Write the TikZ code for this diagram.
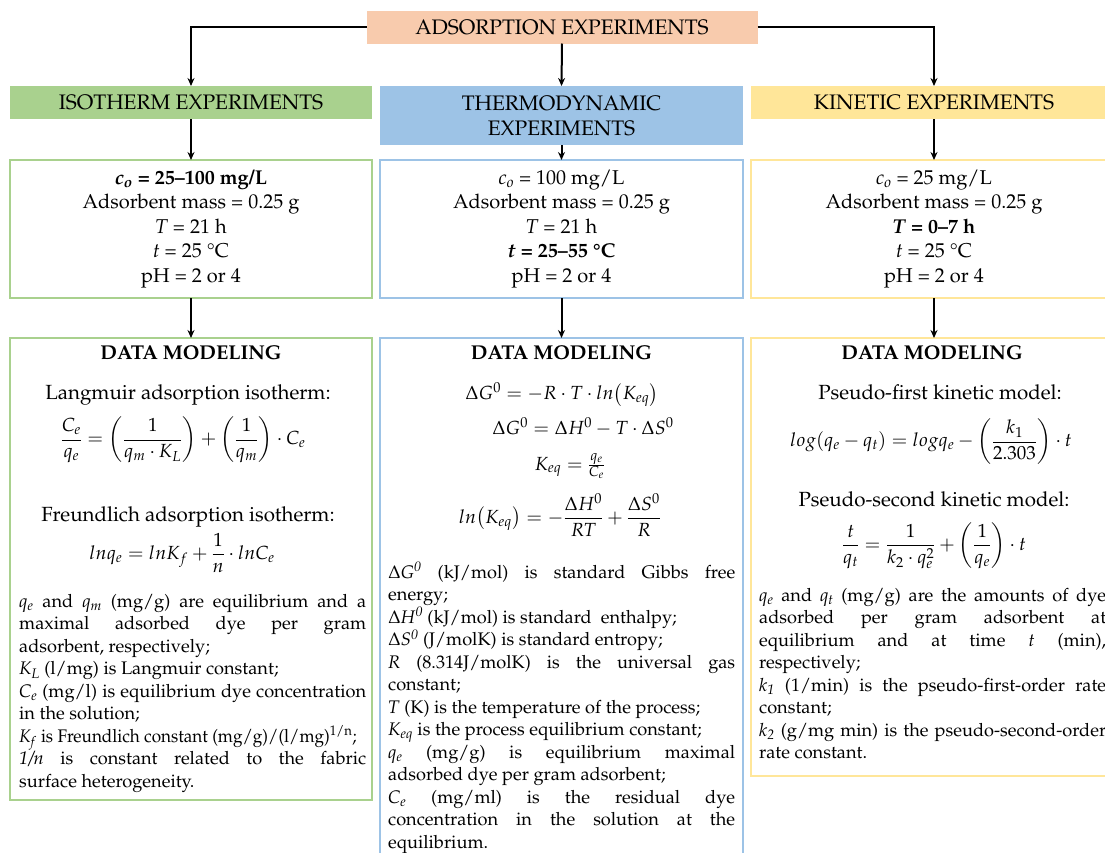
\documentclass[tikz,border=0pt]{standalone}
\usepackage[T1]{fontenc}
\usepackage{amsmath}
\usepackage{graphicx}
\usepackage{mathpazo}
\usetikzlibrary{arrows.meta}
\definecolor{salmon}{HTML}{F8CBAD}
\definecolor{isogreen}{HTML}{A9D18E}
\definecolor{thermoblue}{HTML}{9DC3E6}
\definecolor{kinyellow}{HTML}{FFE699}
\newlength{\pw}\setlength{\pw}{347pt}
\newcommand{\ptsetup}{\spaceskip=0.25em plus 0.6em minus 0.06em\xspaceskip=\spaceskip}
\newcommand{\jl}[1]{\makebox[\pw][s]{#1}}
\newcommand{\iv}[2]{\textit{#1}\textsubscript{\textit{#2}}}
\begin{document}
\begin{tikzpicture}[x=1pt,y=-1pt,
  box/.style={inner sep=0pt, outer sep=0pt, align=center},
  hdr/.style={box, font=\fontsize{21}{25}\selectfont},
  pbox/.style={box, draw, fill=white, line width=2.5pt, font=\fontsize{20}{24.5}\selectfont},
  dbox/.style={box, draw, line width=2.5pt},
  arr/.style={-{Stealth[length=8pt,width=7pt]}, line width=2pt, black},
  ttl/.style={box, font=\fontsize{20}{24}\selectfont\bfseries},
  subt/.style={box, font=\fontsize{20.5}{24}\selectfont},
  eqn/.style={box, font=\fontsize{19}{23}\selectfont},
  ptext/.style={anchor=north west, inner sep=0pt, text width=347pt, align=left, font=\fontsize{18.2}{22.5}\selectfont}]
\useasboundingbox (0,0) rectangle (1105,852);

% level 1 and 2
\node[hdr, fill=salmon, minimum width=391pt, minimum height=33pt] (top) at (562,27) {ADSORPTION EXPERIMENTS};
\node[hdr, fill=isogreen, minimum width=362pt, minimum height=33pt] (iso) at (191,102.5) {ISOTHERM EXPERIMENTS};
\node[hdr, fill=thermoblue, minimum width=363pt, minimum height=59pt] (thermo) at (561.5,115.5) {THERMODYNAMIC\\EXPERIMENTS};
\node[hdr, fill=kinyellow, minimum width=366pt, minimum height=33pt] (kin) at (934,102.5) {KINETIC EXPERIMENTS};

\draw[arr] (top.west) -| (iso.north);
\draw[arr] (top.east) -| (kin.north);
\draw[arr] (top.south) -- (thermo.north);

% parameter boxes
\node[pbox, draw=isogreen, minimum width=362pt, minimum height=138pt] (isop) at (191,229)
 {\textbf{\iv{c}{o} = 25--100 mg/L}\\Adsorbent mass = 0.25 g\\\textit{T} = 21 h\\\textit{t} = 25 \textdegree C\\pH = 2 or 4};
\node[pbox, draw=thermoblue, minimum width=363pt, minimum height=138pt] (thermop) at (561.5,229)
 {\iv{c}{o} = 100 mg/L\\Adsorbent mass = 0.25 g\\\textit{T} = 21 h\\\textbf{\textit{t} = 25--55 \textdegree C}\\pH = 2 or 4};
\node[pbox, draw=kinyellow, minimum width=366pt, minimum height=138pt] (kinp) at (934,229)
 {\iv{c}{o} = 25 mg/L\\Adsorbent mass = 0.25 g\\\textbf{\textit{T} = 0--7 h}\\\textit{t} = 25 \textdegree C\\pH = 2 or 4};

\draw[arr] (iso.south) -- (isop.north);
\draw[arr] (thermo.south) -- (thermop.north);
\draw[arr] (kin.south) -- (kinp.north);

% data modeling boxes
\node[dbox, draw=isogreen, minimum width=362pt, minimum height=462pt] (isod) at (191,569) {};
\node[dbox, draw=thermoblue, minimum width=363pt, minimum height=542pt] (thermod) at (561.5,609) {};
\node[dbox, draw=kinyellow, minimum width=366pt, minimum height=438pt] (kind) at (934,557) {};

\draw[arr] (isop.south) -- (isod.north);
\draw[arr] (thermop.south) -- (thermod.north);
\draw[arr] (kinp.south) -- (kind.north);

% isotherm contents
\node[ttl] (isot) at (191,353) {DATA MODELING};
\node[subt] (isol) at (188,395) {Langmuir adsorption isotherm:};
\node[eqn] (isoe1) at (183,440) {$\dfrac{C_e}{q_e}=\left(\dfrac{1}{q_m\cdot K_L}\right)+\left(\dfrac{1}{q_m}\right)\cdot C_e$};
\node[subt] (isof) at (188,517) {Freundlich adsorption isotherm:};
\node[eqn] (isoe2) at (182,553) {$ln q_e = ln K_f + \dfrac{1}{n}\cdot ln C_e$};
\node[ptext] (isotx) at (19,594) {\ptsetup
\jl{\iv{q}{e} and \iv{q}{m} (mg/g) are equilibrium and a}\\
\jl{maximal adsorbed dye per gram}\\
adsorbent, respectively;\\
\iv{K}{L} (l/mg) is Langmuir constant;\\
\jl{\iv{C}{e} (mg/l) is equilibrium dye concentration}\\
in the solution;\\
\scalebox{0.94}[1]{\iv{K}{f} is Freundlich constant (mg/g)/(l/mg)\textsuperscript{1/n};}\\
\jl{\textit{1/n} is constant related to the fabric}\\
surface heterogeneity.};

% thermodynamic contents
\node[ttl] (thermot) at (561.5,353) {DATA MODELING};
\node[eqn] (te1) at (562,395) {$\Delta G^0 = -R\cdot T\cdot ln\bigl(K_{eq}\bigr)$};
\node[eqn] (te2) at (583,427) {$\Delta G^0 = \Delta H^0 - T\cdot \Delta S^0$};
\node[eqn] (te3) at (570,466) {$K_{eq} = \frac{q_e}{C_e}$};
\node[eqn] (te4) at (560,515) {$ln\bigl(K_{eq}\bigr) = -\dfrac{\Delta H^0}{RT}+\dfrac{\Delta S^0}{R}$};
\node[ptext] (thermotx) at (388,562) {\ptsetup
\jl{$\Delta$\textit{G}\textsuperscript{\textit{0}} (kJ/mol) is standard Gibbs free}\\
energy;\\
$\Delta$\textit{H}\textsuperscript{\textit{0}} (kJ/mol) is standard\ \ enthalpy;\\
$\Delta$\textit{S}\textsuperscript{\textit{0}} (J/molK) is standard entropy;\\
\jl{\textit{R} (8.314J/molK) is the universal gas}\\
constant;\\
\textit{T} (K) is the temperature of the process;\\
\iv{K}{eq} is the process equilibrium constant;\\
\jl{\iv{q}{e} (mg/g) is equilibrium maximal}\\
adsorbed dye per gram adsorbent;\\
\jl{\iv{C}{e} (mg/ml) is the residual dye}\\
\jl{concentration in the solution at the}\\
equilibrium.};

% kinetic contents
\node[ttl] (kint) at (932,353) {DATA MODELING};
\node[subt] (kinl1) at (940,392) {Pseudo-first kinetic model:};
\node[eqn] (kine1) at (931,442) {$log(q_e-q_t) = log q_e - \left(\dfrac{k_1}{2.303}\right)\cdot t$};
\node[subt] (kinl2) at (934,499) {Pseudo-second kinetic model:};
\node[eqn] (kine2) at (934,546) {$\dfrac{t}{q_t} = \dfrac{1}{k_2\cdot q_e^2} + \left(\dfrac{1}{q_e}\right)\cdot t$};
\node[ptext, text width=348pt] (kintx) at (759,588) {\ptsetup
\jl{\iv{q}{e} and \iv{q}{t} (mg/g) are the amounts of dye}\\
\jl{adsorbed per gram adsorbent at}\\
\jl{equilibrium and at time \textit{t} (min),}\\
respectively;\\
\jl{\iv{k}{1} (1/min) is the pseudo-first-order rate}\\
constant;\\
\jl{\iv{k}{2} (g/mg min) is the pseudo-second-order}\\
rate constant.};
\end{tikzpicture}
\end{document}
